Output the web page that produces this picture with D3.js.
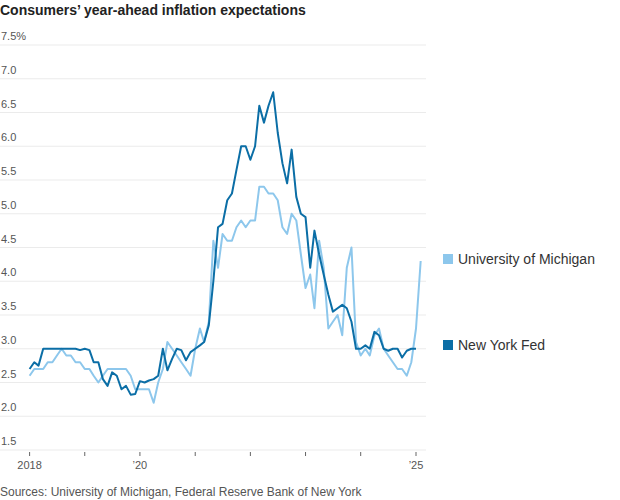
<!DOCTYPE html>
<html>
<head>
<meta charset="UTF-8">
<script src="https://d3js.org/d3.v7.min.js"></script>
<style>
    body { margin: 0; background: #fff; font-family: "Liberation Sans", Arial, sans-serif; }
    text { font-family: "Liberation Sans", Arial, sans-serif; }
</style>
</head>
<body>
<script>
    // monthly values, from Jan 2018
    const nyFed = [
        2.7, 2.8, 2.75, 3.0, 3.0, 3.0, 3.0, 3.0, 3.0, 3.0, 3.0, 2.98,
        3.0, 2.98, 2.8, 2.8, 2.55, 2.45, 2.65, 2.6, 2.4, 2.45, 2.32, 2.33,
        2.52, 2.5, 2.53, 2.55, 2.6, 3.0, 2.68, 2.85, 3.0, 2.98, 2.83, 2.95,
        3.0, 3.05, 3.1, 3.35, 4.0, 4.8, 4.85, 5.2, 5.3, 5.65, 6.0, 6.0,
        5.8, 6.0, 6.6, 6.35, 6.6, 6.8, 6.2, 5.75, 5.45, 5.95, 5.25, 5.0,
        4.95, 4.2, 4.75, 4.4, 4.1, 3.8, 3.55, 3.6, 3.65, 3.6, 3.4, 3.0,
        3.0, 3.05, 3.0, 3.25, 3.2, 3.0, 2.97, 3.0, 3.0, 2.87, 2.97, 3.0,
        3.0
    ];
    const michigan = [
        2.6, 2.7, 2.7, 2.7, 2.8, 2.8, 2.9, 3.0, 2.9, 2.9, 2.8, 2.8,
        2.7, 2.7, 2.6, 2.5, 2.6, 2.7, 2.7, 2.7, 2.7, 2.7, 2.6, 2.4,
        2.4, 2.4, 2.4, 2.2, 2.5, 2.7, 3.1, 3.0, 2.9, 2.8, 2.7, 2.6,
        3.0, 3.3, 3.1, 3.4, 4.6, 4.2, 4.7, 4.6, 4.6, 4.8, 4.9, 4.8,
        4.9, 4.9, 5.4, 5.4, 5.3, 5.3, 5.2, 4.8, 4.7, 5.0, 4.9, 4.4,
        3.9, 4.1, 3.6, 4.6, 4.2, 3.3, 3.4, 3.5, 3.2, 4.2, 4.5, 3.1,
        2.9, 3.0, 2.9, 3.2, 3.3, 3.0, 2.9, 2.8, 2.7, 2.7, 2.6, 2.8,
        3.3, 4.3
    ];
    const yTicks = [1.5, 2.0, 2.5, 3.0, 3.5, 4.0, 4.5, 5.0, 5.5, 6.0, 6.5, 7.0, 7.5];
    const xYears = [2018, 2019, 2020, 2021, 2022, 2023, 2024, 2025];
    const xLabels = {2018: "2018", 2020: "\u201920", 2025: "\u201925"};

    const width = 620, height = 500;
    const dark = "#0b6ea6", light = "#8dc7ec";

    const svg = d3.select("body").append("svg").attr("width", width).attr("height", height);

    const x = d3.scaleTime()
        .domain([new Date(2018, 0, 1), new Date(2025, 0, 1)])
        .range([29.6, 416]);
    const y = d3.scaleLinear().domain([1.5, 7.5]).range([450, 45]);

    const toDate = (v, i) => new Date(2018, i, 1);

    svg.append("text").attr("x", 0).attr("y", 15)
        .attr("font-size", 14).attr("font-weight", "bold").attr("fill", "#222")
        .text("Consumers\u2019 year-ahead inflation expectations");

    // grid
    svg.append("g").selectAll("line").data(yTicks).enter().append("line")
        .attr("x1", 0).attr("x2", 426)
        .attr("y1", d => y(d)).attr("y2", d => y(d))
        .attr("stroke", "#ebebeb").attr("stroke-width", 1.2);

    svg.append("g").selectAll("text").data(yTicks).enter().append("text")
        .attr("x", 1).attr("y", d => y(d) - 5)
        .attr("font-size", 11).attr("fill", "#555")
        .text(d => d.toFixed(1) + (d === 7.5 ? "%" : ""));

    // x axis
    const xg = svg.append("g").attr("transform", "translate(0,452)");
    xg.selectAll("line").data(xYears).enter().append("line")
        .attr("x1", d => x(new Date(d, 0, 1))).attr("x2", d => x(new Date(d, 0, 1)))
        .attr("y1", 0).attr("y2", 4).attr("stroke", "#666");
    xg.selectAll("text").data(xYears.filter(d => xLabels[d])).enter().append("text")
        .attr("x", d => x(new Date(d, 0, 1))).attr("y", 17)
        .attr("text-anchor", "middle").attr("font-size", 11).attr("fill", "#555")
        .text(d => xLabels[d]);

    const line = d3.line().x((d, i) => x(toDate(d, i))).y(d => y(d));

    svg.append("path").datum(michigan).attr("d", line)
        .attr("fill", "none").attr("stroke", light).attr("stroke-width", 2)
        .attr("stroke-linejoin", "round");
    svg.append("path").datum(nyFed).attr("d", line)
        .attr("fill", "none").attr("stroke", dark).attr("stroke-width", 2)
        .attr("stroke-linejoin", "round");

    // legend
    const legend = [
        {name: "University of Michigan", color: light, y: 259},
        {name: "New York Fed", color: dark, y: 345}
    ];
    const lg = svg.append("g").selectAll("g").data(legend).enter().append("g");
    lg.append("rect").attr("x", 443).attr("y", d => d.y - 5).attr("width", 10).attr("height", 10)
        .attr("fill", d => d.color);
    lg.append("text").attr("x", 458).attr("y", d => d.y + 5)
        .attr("font-size", 14).attr("fill", "#333").text(d => d.name);

    svg.append("text").attr("x", 0).attr("y", 496)
        .attr("font-size", 12).attr("fill", "#555")
        .text("Sources: University of Michigan, Federal Reserve Bank of New York");
</script>
</body>
</html>
